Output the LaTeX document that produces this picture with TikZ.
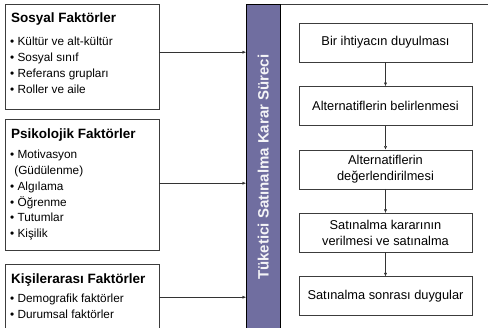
\documentclass[tikz,border=0pt]{standalone}
\usepackage{fontspec}
\setmainfont{Liberation Sans}
\usetikzlibrary{arrows.meta,positioning}
\definecolor{barpurple}{RGB}{112,110,160}
\definecolor{edgegray}{RGB}{60,60,60}
\tikzset{%
	factor/.style   = {draw=edgegray, rectangle, minimum width=154pt, anchor=north west, inner sep=0pt},
	facthead/.style = {anchor=north west, inner sep=0pt, font=\fontsize{13.5}{15}\bfseries\selectfont},
	factlist/.style = {anchor=north west, inner sep=0pt, align=left, font=\fontsize{11.8}{15.8}\selectfont},
	process/.style  = {draw=edgegray, rectangle, minimum width=173pt, minimum height=39pt, text centered, align=center, font=\fontsize{12.8}{15.5}\selectfont},
	bar/.style      = {draw=black, fill=barpurple, minimum width=34pt, minimum height=326pt, anchor=north west, inner sep=0pt},
	panel/.style    = {draw=edgegray, minimum width=300pt, minimum height=340pt, anchor=north west},
	arrow/.style    = {draw=black!80, -{Latex[length=3.5pt,width=3pt]}},
}

\begin{document}
\begin{tikzpicture}[x=1pt, y=-1pt, node distance = 24pt]
	\useasboundingbox (0,0) rectangle (488,328);
	\clip (0,0) rectangle (488,328);
	% frame and process bar
	\node[panel] (frame) at (246,4) {};
	\node[bar] (bar) at (246,4) {};
	\node[rotate=90, text=white!92!barpurple, font=\fontsize{15}{18}\bfseries\selectfont] (title) at (bar.center) {Tüketici Satınalma Karar Süreci};
	
	% factor boxes
	\node[factor, minimum height=105pt] (sosyal) at (5,4) {};
	\node[factor, minimum height=131pt] (psiko) at (5,119) {};
	\node[factor, minimum height=66pt] (kisi) at (5,264) {};
	
	\node[facthead, below right=9pt and 6pt of sosyal.north west] (sosyalhead) {Sosyal Faktörler};
	\node[factlist, below right=33pt and 5pt of sosyal.north west] (sosyallist) {• Kültür ve alt-kültür\\ • Sosyal sınıf\\ • Referans grupları\\ • Roller ve aile};
	\node[facthead, below right=10pt and 6pt of psiko.north west] (psikohead) {Psikolojik Faktörler};
	\node[factlist, below right=31pt and 5pt of psiko.north west] (psikolist) {• Motivasyon\\ \hphantom{•}(Güdülenme)\\ • Algılama\\ • Öğrenme\\ • Tutumlar\\ • Kişilik};
	\node[facthead, below right=10pt and 6pt of kisi.north west] (kisihead) {Kişilerarası Faktörler};
	\node[factlist, below right=30pt and 5pt of kisi.north west] (kisilist) {• Demografik faktörler\\ • Durumsal faktörler};
	
	% decision steps
	\node[process] (ihtiyac) at (385.5,42.5) {Bir ihtiyacın duyulması};
	\node[process, below=of ihtiyac] (belirle) {Alternatiflerin belirlenmesi};
	\node[process, below=of belirle] (degerle) {Alternatiflerin\\ değerlendirilmesi};
	\node[process, below=of degerle] (karar) {Satınalma kararının\\ verilmesi ve satınalma};
	\node[process, below=of karar] (sonra) {Satınalma sonrası duygular};
	
	\draw[arrow] ([yshift=4.5pt]sosyal.east) -- ([yshift=4.5pt]sosyal.east -| bar.west);
	\draw[arrow] ([yshift=1.5pt]psiko.east) -- ([yshift=1.5pt]psiko.east -| bar.west);
	\draw[arrow] (kisi.east) -- (kisi.east -| bar.west);
	\draw[arrow] (ihtiyac) -- (belirle);
	\draw[arrow] (belirle) -- (degerle);
	\draw[arrow] (degerle) -- (karar);
	\draw[arrow] (karar) -- (sonra);
\end{tikzpicture}
\end{document}
